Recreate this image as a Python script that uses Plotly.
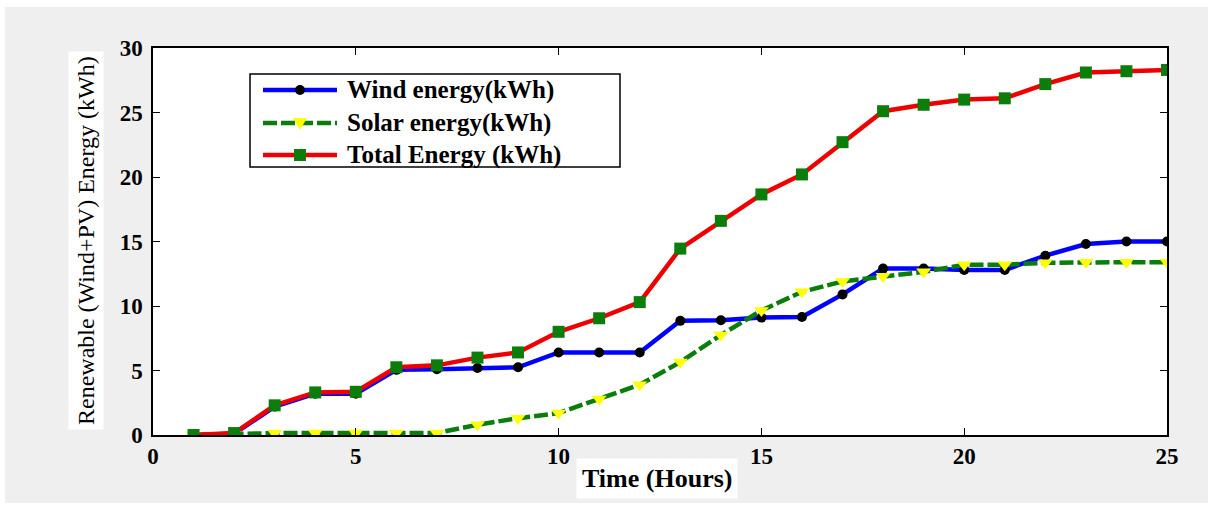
import plotly.graph_objects as go

hours = list(range(1, 26))
wind = [0, 0.1, 2.2, 3.2, 3.2, 5.05, 5.1, 5.2, 5.25, 6.4, 6.4, 6.4, 8.85, 8.9, 9.1, 9.15,
        10.9, 12.9, 12.9, 12.8, 12.8, 13.9, 14.8, 15.0, 15.0]
solar = [0, 0.1, 0.15, 0.15, 0.15, 0.15, 0.15, 0.8, 1.3, 1.7, 2.8, 3.9, 5.65, 7.75, 9.65,
         11.1, 11.9, 12.3, 12.65, 13.2, 13.2, 13.35, 13.4, 13.4, 13.4]
total = [0, 0.15, 2.3, 3.3, 3.35, 5.25, 5.4, 6.0, 6.4, 8.0, 9.05, 10.3, 14.45, 16.6, 18.65,
         20.2, 22.7, 25.1, 25.6, 26.0, 26.1, 27.2, 28.1, 28.2, 28.3]
series_names = ["Wind energy(kWh)", "Solar energy(kWh)", "Total Energy (kWh)"]
x_ticks = [0, 5, 10, 15, 20, 25]
y_ticks = [0, 5, 10, 15, 20, 25, 30]

SERIF = "'Liberation Serif', serif"
BLUE, GREEN, RED, YELLOW = "#0000ff", "#0a7d0a", "#ee0000", "#ffff00"

fig = go.Figure()
fig.add_trace(go.Scatter(
    x=hours, y=wind, name=series_names[0], mode="lines+markers",
    line=dict(color=BLUE, width=4.5),
    marker=dict(symbol="circle", size=10, color="#000000"),
))
fig.add_trace(go.Scatter(
    x=hours, y=solar, name=series_names[1], mode="lines+markers",
    line=dict(color=GREEN, width=4.5, dash="14px,4px"),
    marker=dict(symbol="triangle-down", size=13, color=YELLOW),
))
fig.add_trace(go.Scatter(
    x=hours, y=total, name=series_names[2], mode="lines+markers",
    line=dict(color=RED, width=4.5),
    marker=dict(symbol="square", size=12, color=GREEN),
))

W, H = 1208, 506
L, R, T, B = 153, 41, 48, 71
pw, ph = W - L - R, H - T - B


def px(x):
    return (x - L) / pw


def py(y):
    return (H - B - y) / ph


axis_common = dict(
    showgrid=False, zeroline=False, showline=True, linecolor="#000000", linewidth=1.5,
    mirror="ticks", ticks="inside", ticklen=7, tickwidth=1.2, tickcolor="#000000",
    tickfont=dict(family=SERIF, size=23, color="#000000", weight="bold"),
)

fig.update_xaxes(range=[0, 25], tickvals=x_ticks, ticktext=[str(v) for v in x_ticks],
                 **axis_common)
fig.update_yaxes(range=[0, 30], tickvals=y_ticks, ticktext=[str(v) for v in y_ticks],
                 ticklabelstandoff=4, **axis_common)

# background frame (white outer border, grey figure)
shapes = [
    dict(type="rect", xref="paper", yref="paper", layer="below",
         x0=px(-20), x1=px(5), y0=py(560), y1=py(-50),
         fillcolor="#ffffff", line=dict(width=0)),
    dict(type="rect", xref="paper", yref="paper", layer="below",
         x0=px(-20), x1=px(1230), y0=py(7), y1=py(-50),
         fillcolor="#ffffff", line=dict(width=0)),
    dict(type="rect", xref="paper", yref="paper", layer="below",
         x0=px(-20), x1=px(1230), y0=py(560), y1=py(503),
         fillcolor="#ffffff", line=dict(width=0)),
]

# legend box drawn in MATLAB style (long line samples)
shapes.append(dict(type="rect", xref="paper", yref="paper", layer="above",
                   x0=px(250), x1=px(620), y0=py(167), y1=py(74),
                   fillcolor="#ffffff", line=dict(color="#000000", width=1.5)))
rows = [90, 123, 155]
line_styles = [(BLUE, "solid"), (GREEN, "14px,4px"), (RED, "solid")]
annotations = []
for i, (yy, (col, dash)) in enumerate(zip(rows, line_styles)):
    shapes.append(dict(type="line", xref="paper", yref="paper", layer="above",
                       x0=px(263), x1=px(337), y0=py(yy), y1=py(yy),
                       line=dict(color=col, width=4.5, dash=dash)))
    annotations.append(dict(text="<b>" + series_names[i] + "</b>", xref="paper",
                            yref="paper", x=px(345), y=py(yy), xanchor="left",
                            yanchor="middle", showarrow=False,
                            font=dict(family=SERIF, size=25, color="#000000")))
# legend markers
shapes.append(dict(type="circle", xref="paper", yref="paper", layer="above",
                   xsizemode="pixel", ysizemode="pixel", xanchor=px(300), yanchor=py(rows[0]),
                   x0=-5, x1=5, y0=-5, y1=5, fillcolor="#000000", line=dict(width=0)))
shapes.append(dict(type="path", xref="paper", yref="paper", layer="above",
                   xsizemode="pixel", ysizemode="pixel", xanchor=px(300), yanchor=py(rows[1]),
                   path="M-7,5 L7,5 L0,-7 Z", fillcolor=YELLOW, line=dict(width=0)))
shapes.append(dict(type="rect", xref="paper", yref="paper", layer="above",
                   xsizemode="pixel", ysizemode="pixel", xanchor=px(300), yanchor=py(rows[2]),
                   x0=-6, x1=6, y0=-6, y1=6, fillcolor=GREEN, line=dict(width=0)))

annotations += [
    dict(text="<b>Time (Hours)</b>", xref="paper", yref="paper",
         x=px(657), y=py(478), xanchor="center", yanchor="middle", showarrow=False,
         bgcolor="#ffffff", borderpad=5,
         font=dict(family=SERIF, size=26, color="#000000")),
    dict(text="Renewable (Wind+PV) Energy (kWh)", xref="paper", yref="paper",
         x=px(86), y=py(241), xanchor="center", yanchor="middle", showarrow=False,
         textangle=-90, bgcolor="#ffffff", borderpad=4,
         font=dict(family=SERIF, size=24, color="#000000")),
]

fig.update_layout(
    width=W, height=H,
    margin=dict(l=L, r=R, t=T, b=B, pad=0),
    paper_bgcolor="#efefef", plot_bgcolor="#ffffff",
    showlegend=False,
    shapes=shapes,
    annotations=annotations,
)

fig.write_html("out.html")
